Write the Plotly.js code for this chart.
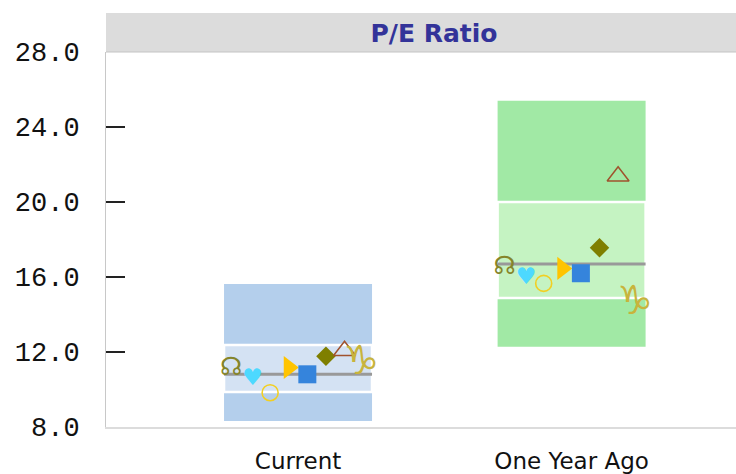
<!DOCTYPE html>
<html><head><meta charset="utf-8">
<script src="https://cdn.plot.ly/plotly-3.0.1.min.js"></script>
<style>html,body{margin:0;padding:0;background:#fff;} #chart{width:736px;height:474px;}</style>
</head><body><div id="chart"></div>
<script>
// ---- data ----
const categories = ["Current", "One Year Ago"];
const rangeLow = [8.32, 12.28];
const rangeHigh = [15.63, 25.40];
const bandLow = [9.87, 14.88];
const bandHigh = [12.37, 20.00];
const medianVals = [10.81, 16.69];
const nodeVals = [11.10, 16.50];
const heartVals = [10.55, 15.92];
const circleVals = [9.83, 15.66];
const triRightVals = [11.17, 16.46];
const squareVals = [10.81, 16.20];
const diamondVals = [11.77, 17.56];
const triUpVals = [12.07, 21.37];
const capricornVals = [11.36, 14.55];
const yTicks = [8, 12, 16, 20, 24, 28];

// ---- drawing ----
const idx = categories.map((c, i) => i);
const boxW = 0.541;
const step = 0.068;
const slot = [-3.6, -2.45, -1.5, -0.5, 0.5, 1.5, 2.5, 3.4];
const off = k => idx.map(i => i + slot[k] * step);
const outerColors = ['#b4cfec', '#a1e9a5'];
const innerColors = ['#d4e2f3', '#c5f3c2'];

const traces = [];
traces.push({type: 'bar', x: idx, y: idx.map(i => rangeHigh[i] - rangeLow[i]), base: rangeLow,
  width: boxW, marker: {color: outerColors, line: {width: 0}}, hoverinfo: 'skip', showlegend: false});
traces.push({type: 'bar', x: idx, y: idx.map(i => bandHigh[i] - bandLow[i]), base: bandLow,
  width: boxW, marker: {color: innerColors, line: {width: 2.5, color: '#ffffff'}}, hoverinfo: 'skip', showlegend: false});
const mx = [], my = [];
idx.forEach(i => { mx.push(i - boxW / 2, i + boxW / 2, null); my.push(medianVals[i], medianVals[i], null); });
traces.push({type: 'scatter', mode: 'lines', x: mx, y: my, line: {color: '#999999', width: 3}, showlegend: false, hoverinfo: 'skip'});

function textTrace(k, vals, glyph, size, color) {
  return {type: 'scatter', mode: 'text', x: off(k), y: vals, text: idx.map(() => glyph),
    textposition: 'middle center', textfont: {family: 'DejaVu Sans', size: size, color: color}, showlegend: false, cliponaxis: false};
}
function markerTrace(k, vals, symbol, size, color, lineW) {
  return {type: 'scatter', mode: 'markers', x: off(k), y: vals,
    marker: {symbol: symbol, size: size, color: color, line: {width: lineW || 0, color: color}}, showlegend: false, cliponaxis: false};
}
traces.push(textTrace(0, nodeVals, '\u260A', 25, '#85852a'));
traces.push(textTrace(1, heartVals, '\u2665', 23, '#4dd9ff'));
traces.push(markerTrace(2, circleVals, 'circle-open', 16, '#f2cf22', 1.6));
traces.push(markerTrace(3, triRightVals, 'triangle-right', 20, '#ffc400'));
traces.push(markerTrace(4, squareVals, 'square', 18, '#3584dc'));
traces.push(markerTrace(5, diamondVals, 'diamond', 15, '#7f7f00'));
traces.push(markerTrace(6, triUpVals, 'triangle-up-open', 19, '#a0522d', 1.5));
traces.push(textTrace(7, capricornVals, '\u2651', 40, '#c8b43c'));

const layout = {
  width: 736, height: 474,
  margin: {l: 106, r: 0, t: 52, b: 47},
  paper_bgcolor: '#ffffff', plot_bgcolor: '#ffffff',
  barmode: 'overlay', showlegend: false,
  title: {text: 'P/E Ratio', x: 434 / 736, xanchor: 'center', y: 1 - 33 / 474, yanchor: 'middle',
    font: {family: 'DejaVu Sans', size: 25, weight: 'bold', color: '#333399'}},
  xaxis: {range: [-0.702, 1.601], tickmode: 'array', tickvals: idx, ticktext: categories,
    showgrid: false, zeroline: false, showline: true, linecolor: '#dcdcdc', linewidth: 2, ticks: '',
    tickfont: {family: 'DejaVu Sans', size: 23, color: '#111111'}, ticklabelstandoff: 12, fixedrange: true},
  yaxis: {range: [8, 28], tickmode: 'array', tickvals: yTicks, ticktext: yTicks.map(v => v.toFixed(1)),
    showgrid: false, zeroline: false, showline: true, linecolor: '#c8c8c8', linewidth: 1,
    ticks: 'inside', ticklen: 19, tickwidth: 2, tickcolor: '#222222',
    tickfont: {family: 'Liberation Mono', size: 27, color: '#111111'}, ticklabelstandoff: 20, fixedrange: true},
  shapes: [
    {type: 'rect', xref: 'paper', yref: 'paper', x0: 0, x1: 1, y0: 1, y1: 1 + 39 / 375, fillcolor: '#dcdcdc', line: {width: 0}, layer: 'below'},
    {type: 'line', xref: 'paper', yref: 'paper', x0: 0, x1: 1, y0: 1, y1: 1, line: {color: '#c4c4c4', width: 1}}
  ]
};
Plotly.newPlot('chart', traces, layout, {displayModeBar: false, staticPlot: true});
</script>
</body></html>
